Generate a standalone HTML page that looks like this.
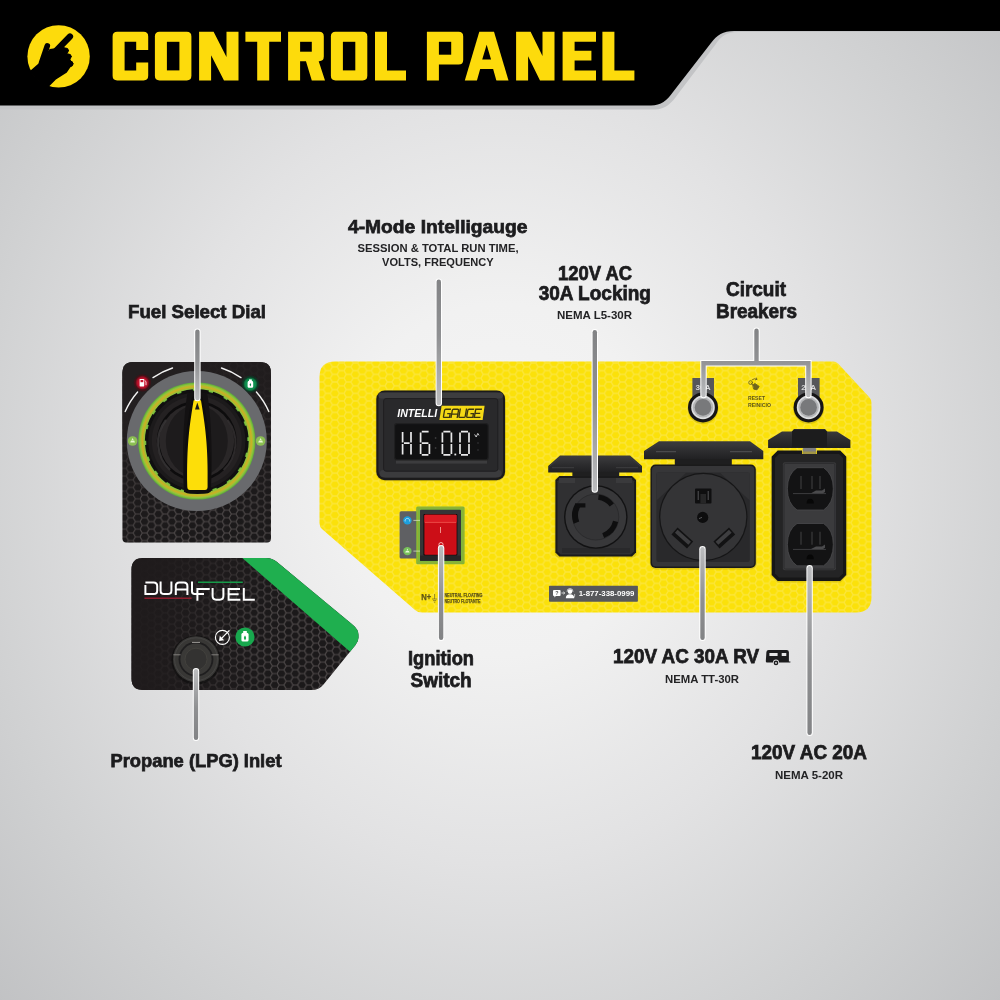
<!DOCTYPE html>
<html>
<head>
<meta charset="utf-8">
<title>Control Panel</title>
<style>
html,body{margin:0;padding:0;}
body{width:1000px;height:1000px;overflow:hidden;background:#c4c5c6;font-family:"Liberation Sans",sans-serif;}
#stage{position:relative;width:1000px;height:1000px;overflow:hidden;
  background:radial-gradient(ellipse 720px 800px at 500px 480px,#f5f5f5 0%,#f1f1f1 22%,#e2e2e3 48%,#cfd0d1 75%,#bebfc1 100%);}
svg{position:absolute;left:0;top:0;will-change:transform;}
text{font-family:"Liberation Sans",sans-serif;font-weight:bold;}
.h{fill:#1c1c1e;stroke:#1c1c1e;stroke-width:0.75px;}
.s{fill:#232325;}
</style>
</head>
<body>
<div id="stage">
<svg width="1000" height="1000" viewBox="0 0 1000 1000">
<defs>
  <!-- yellow hex pattern -->
  <pattern id="hexY" width="13.7" height="7.6" patternUnits="userSpaceOnUse" patternTransform="translate(1.5,2)">
    <rect width="13.7" height="7.6" fill="#fbe10a"/>
    <path d="M0,3.8 L2.28,0 H6.85 L9.13,3.8 L6.85,7.6 H2.28 Z M9.13,3.8 H13.7" fill="none" stroke="#fce63c" stroke-width="1.35"/>
  </pattern>
  <!-- dark hex pattern -->
  <pattern id="hexD" width="13.7" height="7.6" patternUnits="userSpaceOnUse" patternTransform="translate(3,1)">
    <rect width="13.7" height="7.6" fill="#1b191a"/>
    <path d="M0,3.8 L2.28,0 H6.85 L9.13,3.8 L6.85,7.6 H2.28 Z M9.13,3.8 H13.7" fill="none" stroke="#524d4d" stroke-width="1.15"/>
  </pattern>
  <radialGradient id="dialPanelShade" cx="205" cy="545" r="175" gradientUnits="userSpaceOnUse">
    <stop offset="0" stop-color="#231f20" stop-opacity="0"/>
    <stop offset="0.35" stop-color="#231f20" stop-opacity="0.12"/>
    <stop offset="0.7" stop-color="#211d1e" stop-opacity="0.55"/>
    <stop offset="1" stop-color="#211d1e" stop-opacity="0.9"/>
  </radialGradient>
  <radialGradient id="dialPanelShade2" cx="135" cy="372" r="95" gradientUnits="userSpaceOnUse">
    <stop offset="0" stop-color="#231f20" stop-opacity="1"/>
    <stop offset="0.6" stop-color="#231f20" stop-opacity="0.9"/>
    <stop offset="1" stop-color="#231f20" stop-opacity="0"/>
  </radialGradient>
  <radialGradient id="dfPanelShade" cx="305" cy="640" r="185" gradientUnits="userSpaceOnUse">
    <stop offset="0" stop-color="#201c1d" stop-opacity="0"/>
    <stop offset="0.3" stop-color="#201c1d" stop-opacity="0.1"/>
    <stop offset="0.6" stop-color="#1f1b1c" stop-opacity="0.6"/>
    <stop offset="0.85" stop-color="#1f1b1c" stop-opacity="0.93"/>
    <stop offset="1" stop-color="#1f1b1c" stop-opacity="1"/>
  </radialGradient>
  <linearGradient id="lidG" x1="0" y1="0" x2="0" y2="1">
    <stop offset="0" stop-color="#3d3d3f"/><stop offset="0.45" stop-color="#2f2f31"/><stop offset="1" stop-color="#202022"/>
  </linearGradient>
  <radialGradient id="ringG" cx="196.8" cy="441" r="58.6" gradientUnits="userSpaceOnUse">
    <stop offset="0.85" stop-color="#4aa83a"/>
    <stop offset="0.885" stop-color="#86c43e"/>
    <stop offset="0.93" stop-color="#cfae22"/>
    <stop offset="0.965" stop-color="#93c43c"/>
    <stop offset="1" stop-color="#5aae38"/>
  </radialGradient>
  <radialGradient id="knobG" cx="0.5" cy="0.5" r="0.5">
    <stop offset="0" stop-color="#2b2a2b"/><stop offset="0.62" stop-color="#252425"/><stop offset="0.7" stop-color="#0d0c0d"/><stop offset="0.8" stop-color="#1d1b1c"/><stop offset="1" stop-color="#121112"/>
  </radialGradient>
  <radialGradient id="redG" cx="0.5" cy="0.5" r="0.5">
    <stop offset="0" stop-color="#e0162f"/><stop offset="0.7" stop-color="#b8102a"/><stop offset="1" stop-color="#5a0d18"/>
  </radialGradient>
  <radialGradient id="grnG" cx="0.5" cy="0.5" r="0.5">
    <stop offset="0" stop-color="#12a35a"/><stop offset="0.75" stop-color="#0d8a4b"/><stop offset="1" stop-color="#0a4a2c"/>
  </radialGradient>
  <linearGradient id="lineG" x1="0" x2="1" y1="0" y2="0">
    <stop offset="0" stop-color="#8a8b8d"/><stop offset="1" stop-color="#7a7b7d"/>
  </linearGradient>
</defs>

<!-- ===== HEADER ===== -->
<g id="header">
  <path d="M0,0 H1000 V32 H738 C727,32 721,36 715.5,44.5 L678,94 C672,103 665,109.5 655,109.5 H0 Z" fill="#c3c4c6"/>
  <path d="M0,0 H1000 V31 H734 C723,31 717,35 711,43 L673,92 C667,100.5 661,105.5 651,105.5 H0 Z" fill="#000"/>
  <clipPath id="cc"><circle cx="58.6" cy="56.4" r="32"/></clipPath>
  <circle cx="58.6" cy="56.4" r="31.2" fill="#fddb0c"/>
  <g clip-path="url(#cc)" fill="#000" stroke="#000" stroke-linecap="round" stroke-linejoin="round">
    <path d="M52.5,54.5 L70,36.5" stroke-width="6.2" fill="none"/>
    <path d="M41.5,63 L47.3,45.8" stroke-width="5.6" fill="none"/>
    <circle cx="65.8" cy="50.6" r="2.6"/><circle cx="68.6" cy="56.6" r="2.6"/><circle cx="70.2" cy="63.8" r="2.8"/>
    <path d="M39.5,64 L50,50 L64,48 L71.5,64 L66,72 L55,79 L46,88 L28,74 Z" stroke-width="2"/>
  </g>
  <g id="title">
    <path fill="#fddb0c" d="M117.2,31.8 H143.6 Q148.2,31.8 148.2,36.4 V49.9 H136.2 V41.8 H124.6 V70.4 H136.2 V62.5 H148.2 V75.8 Q148.2,80.4 143.6,80.4 H117.2 Q112.6,80.4 112.6,75.8 V36.4 Q112.6,31.8 117.2,31.8 Z"/>
    <path fill="#fddb0c" d="M159.5,31.8 H186.8 Q191.4,31.8 191.4,36.4 V75.8 Q191.4,80.4 186.8,80.4 H159.5 Q154.9,80.4 154.9,75.8 V36.4 Q154.9,31.8 159.5,31.8 Z"/>
    <path fill="#000" d="M166.9,41.8 H179.4 V70.4 H166.9 Z"/>
    <path fill="#fddb0c" d="M199.1,31.8 H211.1 V80.4 H199.1 Z M226.5,31.8 H238.5 V80.4 H226.5 Z M199.1,31.8 L213.6,31.8 L238.5,80.4 L224,80.4 Z"/>
    <path fill="#fddb0c" d="M245.4,31.8 H281 V41.8 H245.4 Z M257.2,31.8 H269.2 V80.4 H257.2 Z"/>
    <path fill="#fddb0c" d="M288.1,31.8 H300.1 V80.4 H288.1 Z M288.1,31.8 H319.2 Q323.8,31.8 323.8,36.4 V56.6 Q323.8,61.2 319.2,61.2 H288.1 V31.8 Z M305.6,60 L318.3,60 L325,80.4 L311.8,80.4 Z"/>
    <path fill="#000" d="M300.1,41.8 H311.8 V51.7 H300.1 Z"/>
    <path fill="#fddb0c" d="M335.5,31.8 H362.7 Q367.3,31.8 367.3,36.4 V75.8 Q367.3,80.4 362.7,80.4 H335.5 Q330.9,80.4 330.9,75.8 V36.4 Q330.9,31.8 335.5,31.8 Z"/>
    <path fill="#000" d="M342.9,41.8 H355.3 V70.4 H342.9 Z"/>
    <path fill="#fddb0c" d="M375,31.8 H387 V80.4 H375 Z M375,70.4 H406 V80.4 H375 Z"/>
    <path fill="#fddb0c" d="M426.9,31.8 H438.9 V80.4 H426.9 Z M426.9,31.8 H458.6 Q463.2,31.8 463.2,36.4 V59.9 Q463.2,64.5 458.6,64.5 H426.9 V31.8 Z"/>
    <path fill="#000" d="M438.9,41.8 H451.2 V54.7 H438.9 Z"/>
    <path fill="#fddb0c" d="M464.8,80.4 L479.3,31.8 L494,31.8 L508.5,80.4 Z"/>
    <path fill="#000" d="M476.8,80.9 L480.17,69.1 L493.13,69.1 L496.5,80.9 Z M482.24,59.5 L486.65,44.7 L491.06,59.5 Z"/>
    <path fill="#fddb0c" d="M516.1,31.8 H528.1 V80.4 H516.1 Z M542.5,31.8 H554.5 V80.4 H542.5 Z M516.1,31.8 L530.6,31.8 L554.5,80.4 L540,80.4 Z"/>
    <path fill="#fddb0c" d="M562.6,31.8 H574.6 V80.4 H562.6 Z M562.6,31.8 H596 V41.8 H562.6 Z M562.6,70.4 H596 V80.4 H562.6 Z M562.6,50.7 H591.4 V60.6 H562.6 Z"/>
    <path fill="#fddb0c" d="M602.4,31.8 H614.4 V80.4 H602.4 Z M602.4,70.4 H634.4 V80.4 H602.4 Z"/>
  </g>
</g>

<!-- ===== YELLOW PANEL ===== -->
<g id="ypanel">
  <path id="yp" d="M335,361.5 H833 Q836,361.5 838,363.6 L869.5,397.5 Q871.5,399.7 871.5,403 V597 Q871.5,612.5 856,612.5 H422 Q418,612.5 415,610 L322,529 Q319.5,527 319.5,523 V377 Q319.5,361.5 335,361.5 Z" fill="url(#hexY)"/>

  <!-- Intelligauge -->
  <g id="gauge">
    <rect x="375.6" y="390.2" width="130" height="91" rx="9" fill="#d8c010" opacity="0.55"/>
    <rect x="376.3" y="390.6" width="128.8" height="89.6" rx="8.5" fill="#1b1a1b"/>
    <rect x="378.4" y="392.4" width="124.6" height="85.6" rx="7" fill="#303032"/>
    <rect x="378.4" y="392.4" width="124.6" height="6" rx="3" fill="#3d3d3f"/>
    <rect x="380" y="470" width="121.5" height="7" rx="3" fill="#3b3b3d"/>
    <rect x="383.6" y="398.6" width="114.2" height="72.6" rx="2.5" fill="#29292b" stroke="#1f1e20" stroke-width="1"/>
    <text x="397.2" y="417.2" font-size="11.4" font-style="italic" fill="#fff" textLength="40" lengthAdjust="spacingAndGlyphs">INTELLI</text>
    <path d="M441.6,405.8 H484.6 L482.6,420 H439.4 Z" fill="#f4d915"/>
    <g fill="none" stroke="#3b3510" stroke-width="1.35" transform="translate(73.5,0) skewX(-10)">
      <path d="M449.60,409.2 H444.40 Q443.40,409.2 443.40,410.2 V416.4 Q443.40,417.4 444.40,417.4 H449.60 V413.60 H446.60 M451.15,418.0 V410.2 Q451.15,409.2 452.15,409.2 H456.35 Q457.35,409.2 457.35,410.2 V418.0 M451.15,414.10 H457.35 M458.90,408.59999999999997 V416.4 Q458.90,417.4 459.90,417.4 H464.10 Q465.10,417.4 465.10,416.4 V408.59999999999997 M472.85,409.2 H467.65 Q466.65,409.2 466.65,410.2 V416.4 Q466.65,417.4 467.65,417.4 H472.85 V413.60 H469.85 M480.60,409.2 H474.40 V417.4 H480.60 M474.40,413.30 H479.60"/>
    </g>
    <rect x="394.6" y="423.6" width="93.6" height="36.2" rx="2.5" fill="#111112" stroke="#1f1f20" stroke-width="1.2"/>
    <rect x="396" y="460.6" width="91" height="3" fill="#3c3c3e"/>
    <!-- 7-seg digits -->
    <g fill="none" stroke="#e9e9ea" stroke-width="1.7" stroke-linecap="butt">
      <path d="M402.6,432 V442.4 M402.6,444 V454.4 M411,432 V442.4 M411,444 V454.4 M404,443.2 H409.6"/>
      <path d="M421.8,431.6 H428.6 M420.6,432.6 V442.4 M420.6,444 V454 M421.8,443.2 H428.4 M429.4,444 V454 M421.8,454.8 H428.4"/>
      <path d="M443.4,431.6 H450.4 M442.4,432.6 V442.4 M442.4,444 V454 M451.4,432.6 V442.4 M451.4,444 V454 M443.4,454.8 H450.4"/>
      <path d="M461,431.6 H468 M460,432.6 V442.4 M460,444 V454 M469,432.6 V442.4 M469,444 V454 M461,454.8 H468"/>
    </g>
    <rect x="454.4" y="453.6" width="1.8" height="1.8" fill="#e9e9ea"/>
    <path d="M474.6,434.4 l1.6,2.6 l1.6,-3.6 l1.2,2" fill="none" stroke="#d8d8d9" stroke-width="0.9"/>
    <g fill="#3a3a3c"><circle cx="435.6" cy="438" r="0.9"/><circle cx="435.6" cy="448" r="0.9"/><circle cx="478" cy="443" r="0.8"/><circle cx="478" cy="450" r="0.8"/></g>
  </g>

  <!-- Ignition switch -->
  <g id="switch">
    <rect x="399.6" y="511.2" width="18" height="47.2" rx="1.5" fill="#5f6063"/>
    <rect x="416.2" y="506.4" width="48.4" height="57.9" rx="1.5" fill="#7cb63c"/>
    <rect x="417.6" y="507.8" width="45.6" height="55.1" rx="1" fill="none" stroke="#98b031" stroke-width="1"/>
    <rect x="420" y="509.8" width="41" height="51" rx="1" fill="#353537"/>
    <rect x="420" y="555.6" width="41" height="5.2" fill="#262627"/>
    <rect x="423.4" y="514" width="34" height="41.6" rx="1" fill="#160a0a"/>
    <rect x="424.4" y="514.8" width="32.2" height="39.9" rx="1" fill="#d3101a"/>
    <rect x="424.4" y="514.8" width="32.2" height="7.6" rx="1" fill="#dc1a22"/>
    <path d="M424.8,522.4 H456.2" stroke="#f0564f" stroke-width="0.8"/>
    <rect x="425.4" y="523.4" width="30.2" height="30" fill="#c80d16" opacity="0.6"/>
    <path d="M440.5,527 V533" stroke="#f7b4a8" stroke-width="0.8"/>
    <circle cx="441" cy="544.6" r="2.1" fill="none" stroke="#ffd8d0" stroke-width="0.8"/>
    <circle cx="407.4" cy="520.4" r="4.2" fill="#1c9fdd"/>
    <path d="M405.2,521.4 a2.3,2.3 0 1 1 4.4,0" fill="none" stroke="#bfe6fa" stroke-width="0.9"/>
    <circle cx="407.4" cy="551.1" r="4.2" fill="#77c05a"/>
    <path d="M405.2,552.6 h4.4 l-0.7,-1.6 h-3 Z M406.5,550.4 l0.9,-1.9 l0.9,1.9 Z" fill="#e6f6d8"/>
    <path d="M413.4,520.4 H420 M413.4,551.1 H420" stroke="#dfe9c8" stroke-width="0.7"/>
  </g>

  <!-- N + ground text -->
  <g id="ntext" fill="#5e5518" stroke="#5e5518" stroke-width="0.25">
    <text x="421.2" y="600.4" font-size="8.2" textLength="10" lengthAdjust="spacingAndGlyphs">N+</text>
    <path d="M434.6,594 V599 M432,599 H437.2 M433,600.6 H436.2 M433.9,602.2 H435.3" stroke="#6f651d" stroke-width="0.7" fill="none"/>
    <text x="444.4" y="597.2" font-size="4.6" textLength="38" lengthAdjust="spacingAndGlyphs">NEUTRAL FLOATING</text>
    <text x="444.4" y="602.6" font-size="4.6" textLength="36" lengthAdjust="spacingAndGlyphs">NEUTRO FLOTANTE</text>
  </g>

  <!-- phone label -->
  <g id="phone">
    <rect x="549" y="585.7" width="88.9" height="16" rx="0.8" fill="#57585b"/>
    <rect x="553" y="589.9" width="7.6" height="6" rx="1" fill="#fff"/>
    <path d="M554.4,595.6 v2 l2,-2 Z" fill="#fff"/>
    <text x="555.3" y="595" font-size="5.4" fill="#57585b">?</text>
    <path d="M561.4,593 H564.6 M563.4,591.8 L564.8,593 L563.4,594.2" stroke="#fff" stroke-width="0.7" fill="none"/>
    <circle cx="570" cy="591.6" r="2.3" fill="#fff"/>
    <path d="M565.8,598.2 q0,-4 4.2,-4 q4.2,0 4.2,4 Z" fill="#fff"/>
    <path d="M567,591.6 a3,3 0 0 1 6,0" fill="none" stroke="#fff" stroke-width="0.7"/>
    <path d="M574.6,594 q0.6,2.4 -1,4" fill="none" stroke="#fff" stroke-width="0.6"/>
    <text x="578.7" y="596.3" font-size="7" fill="#fff" textLength="55.7" lengthAdjust="spacingAndGlyphs">1-877-338-0999</text>
  </g>

  <!-- Circuit breakers -->
  <g id="breakers">
    <rect x="692.4" y="378" width="21.6" height="19" fill="#56575a"/>
    <rect x="798" y="378" width="21.6" height="19" fill="#56575a"/>
    <text x="695.6" y="390" font-size="7.6" fill="#d9d9da" textLength="15" lengthAdjust="spacingAndGlyphs">30A</text>
    <text x="801.2" y="390" font-size="7.6" fill="#d9d9da" textLength="15" lengthAdjust="spacingAndGlyphs">20A</text>
    <g id="brk">
      <circle cx="703" cy="408.6" r="15.4" fill="#b9a30c" opacity="0.45"/>
      <circle cx="703" cy="407.4" r="15" fill="#151415"/>
      <circle cx="703" cy="407.4" r="11.8" fill="#dcdddf"/>
      <circle cx="703" cy="407.4" r="10.2" fill="#b4b5b7"/>
      <circle cx="703" cy="407.4" r="8.3" fill="#78797b"/>
    </g>
    <use href="#brk" x="105.6" y="0"/>
    <!-- reset hand icon -->
    <g fill="none" stroke="#6f651d" stroke-width="0.9" stroke-linecap="round" stroke-linejoin="round">
      <circle cx="750.6" cy="382.6" r="1.9"/>
      <path d="M752.4,379.6 q2.2,-1.8 4.4,-0.4 M756.4,378 l0.6,1.4 l-1.6,0.4"/>
      <path d="M751,383 l4.4,4.6 M753,385 l1.8,-1.6 l4.4,3 l-2.2,3.4 l-3,-0.6 Z" fill="#6f651d"/>
    </g>
    <text x="748" y="400.2" font-size="5.6" fill="#5e5518" textLength="17" lengthAdjust="spacingAndGlyphs">RESET</text>
    <text x="748" y="406.8" font-size="5.6" fill="#5e5518" textLength="23" lengthAdjust="spacingAndGlyphs">REINICIO</text>
  </g>

  <!-- L5-30 locking outlet -->
  <g id="l530">
    <path d="M548.2,466 L560,455.6 H630 L642,466 V472.4 H548.2 Z" fill="url(#lidG)"/>
    <path d="M549.4,466.4 L560.6,457 H629.4 L640.8,466.4" fill="none" stroke="#3b3b3d" stroke-width="1"/>
    <rect x="572.4" y="472" width="46.8" height="5" fill="#1f1f20"/>
    <path d="M552,467.6 H574 M616,467.6 H638" stroke="#39393b" stroke-width="1.4"/>
    <rect x="554.6" y="476.6" width="82.2" height="81" rx="5" fill="#c6ae0c" opacity="0.5"/>
    <path d="M559.4,476 H632 L636,480 V552.6 L632,556.6 H559.4 L555.4,552.6 V480 Z" fill="#1b1b1c"/>
    <path d="M560.6,478 H630.8 L634,481.2 V551.4 L630.8,554.6 H560.6 L557.4,551.4 V481.2 Z" fill="#303032"/>
    <rect x="559" y="478" width="16" height="5" fill="#3a3a3c"/>
    <rect x="616" y="478" width="16" height="5" fill="#3a3a3c"/>
    <rect x="562" y="548" width="68" height="5" fill="#29292b"/>
    <circle cx="595.8" cy="517" r="31.8" fill="#121213"/>
    <circle cx="595.8" cy="517" r="30.4" fill="#38383a"/>
    <circle cx="595.8" cy="517" r="23" fill="#343436" stroke="#2b2b2d" stroke-width="1"/>
    <g fill="none" stroke="#0e0e0f" stroke-width="5.2" stroke-linecap="butt">
      <path d="M576.4,522.6 A20,20 0 0 1 577.6,505.6" stroke-width="6"/>
      <path d="M575,505.4 H585.4" stroke-width="4.2"/>
      <path d="M598.4,497.2 A20,20 0 0 1 611.8,505"/>
      <path d="M615.6,521.4 A20,20 0 0 1 603.2,535.6"/>
    </g>
  </g>

  <!-- TT-30 RV outlet -->
  <g id="tt30">
    <path d="M644,451 L659,441.3 H750 L763.3,451 V459.3 H644 Z" fill="url(#lidG)"/>
    <path d="M645.4,451.4 L659.6,442.6 H749.4 L762,451.4" fill="none" stroke="#3a3a3c" stroke-width="1"/>
    <path d="M656,451.6 H676 M730,451.6 H752" stroke="#4a4a4c" stroke-width="1.3"/>
    <rect x="674.8" y="459" width="57" height="6" fill="#1e1e1f"/>
    <rect x="649.8" y="465.2" width="107" height="104.2" rx="6" fill="#c6ae0c" opacity="0.5"/>
    <rect x="650.5" y="464.5" width="105.3" height="103.5" rx="5" fill="#1a1a1b"/>
    <rect x="652" y="466" width="102.3" height="100.5" rx="4" fill="#363638"/>
    <rect x="656.4" y="472.6" width="93.4" height="89.4" rx="2" fill="#29292b"/>
    <path d="M656.4,472.6 h30 l-30,28 Z M749.8,472.6 h-30 l30,28 Z" fill="#323234"/>
    <circle cx="703.3" cy="517" r="44.2" fill="#161617"/>
    <circle cx="703.3" cy="517" r="43" fill="#343436"/>
    <rect x="695" y="488.5" width="16.5" height="15" rx="1" fill="#0f0f10"/>
    <path d="M698.2,491 V500 M708.2,491 V500" stroke="#5c5c5e" stroke-width="0.9"/>
    <rect x="700.4" y="494" width="5.6" height="9.5" fill="#262627"/>
    <circle cx="702.7" cy="517.4" r="5.6" fill="#0d0d0e"/>
    <path d="M699,518.6 l3,-1.2" stroke="#6a6a6c" stroke-width="0.8"/>
    <g transform="translate(682.3,538) rotate(42)"><rect x="-10.5" y="-4.6" width="21" height="9.2" fill="#121213"/><rect x="-9" y="-3" width="18" height="4" fill="#3e3e40"/></g>
    <g transform="translate(724.3,538) rotate(-42)"><rect x="-10.5" y="-4.6" width="21" height="9.2" fill="#121213"/><rect x="-9" y="-3" width="18" height="4" fill="#3e3e40"/></g>
  </g>

  <!-- 5-20 duplex outlet -->
  <g id="duplex">
    <path d="M768.1,440 L782,431.4 H792 L794,429 H825 L827,431.4 H837 L850.4,440 V447.9 H768.1 Z" fill="url(#lidG)"/>
    <path d="M792,431.4 L794,429.4 H825 L827,431.4 V447 H792 Z" fill="#1c1c1d"/>
    <rect x="802.7" y="447.9" width="13.5" height="6.6" rx="1" fill="#7d7d80"/>
    <path d="M777.4,451.4 H840.6 L847.2,457.4 V575.6 L840.6,582.4 H777.4 L770.8,575.6 V457.4 Z" fill="#c6ae0c" opacity="0.5"/>
    <path d="M777.7,450.6 H802 V455 H817 V450.6 H840.2 L846.2,456.6 V575 L840.2,581 H777.7 L771.7,575 V456.6 Z" fill="#161617"/>
    <path d="M779,454 H839 L843,458 V573.6 L839,577.6 H779 L775,573.6 V458 Z" fill="#242425"/>
    <rect x="782.9" y="462.3" width="53.1" height="107.9" rx="2" fill="#3b3b3d"/>
    <rect x="784" y="463.4" width="50.9" height="105.7" rx="1.5" fill="none" stroke="#2c2c2e" stroke-width="1"/>
    <g id="recep">
      <path d="M797,467.7 H823.6 Q833.3,474 833.3,488.8 Q833.3,503.6 823.6,510 H797 Q787.4,503.6 787.4,488.8 Q787.4,474 797,467.7 Z" fill="#131314" stroke="#4a4a4c" stroke-width="0.8"/>
      <path d="M801,476 V489 M812,476 V489 M820,476 V489" stroke="#2a2a2b" stroke-width="2"/>
      <path d="M793,493.6 H826" stroke="#5a5a5c" stroke-width="0.6"/>
      <path d="M811,493.2 l5,-2.6 h6 l3,-2 v3.4 l-2,1.2 Z" fill="#4a4a4c"/>
      <path d="M806.6,503.4 q0,-4.6 3.6,-4.6 q3.6,0 3.6,4.6 Z" fill="#070707"/>
    </g>
    <use href="#recep" x="0" y="55.8"/>
  </g>
</g>

<!-- ===== DIAL PANEL ===== -->
<g id="dialpanel">
  <path d="M133.5,362 H260 Q271,362 271,373 V538.6 Q271,542.6 267,542.6 H126.5 Q122.5,542.6 122.5,538.6 V373 Q122.5,362 133.5,362 Z" fill="url(#hexD)"/>
  <path d="M133.5,362 H260 Q271,362 271,373 V538.6 Q271,542.6 267,542.6 H126.5 Q122.5,542.6 122.5,538.6 V373 Q122.5,362 133.5,362 Z" fill="url(#dialPanelShade)"/>
  <path d="M133.5,362 H260 Q271,362 271,373 V538.6 Q271,542.6 267,542.6 H126.5 Q122.5,542.6 122.5,538.6 V373 Q122.5,362 133.5,362 Z" fill="url(#dialPanelShade2)"/>
  <!-- white arcs r=77 around (197,441) -->
  <g fill="none" stroke="#f2f2f2" stroke-width="1.4" stroke-linecap="round">
    <path d="M125.2,411.5 A77,77 0 0 1 137.6,392"/>
    <path d="M153,377.6 A77,77 0 0 1 172.5,368"/>
    <path d="M221.5,368 A77,77 0 0 1 241,377.6"/>
    <path d="M256.4,392 A77,77 0 0 1 268.8,411.5"/>
  </g>
  <!-- red gasoline icon -->
  <circle cx="142.4" cy="382.8" r="8.6" fill="#4a0e16" opacity="0.7"/>
  <circle cx="142.4" cy="382.8" r="7" fill="url(#redG)"/>
  <rect x="139.6" y="379" width="4.6" height="7.4" rx="0.6" fill="#fff"/>
  <rect x="140.5" y="380" width="2.8" height="2.2" fill="#c8142d"/>
  <path d="M144.6,380.4 l1.4,1.2 v3.6" fill="none" stroke="#fff" stroke-width="0.8"/>
  <!-- green propane icon -->
  <circle cx="250.4" cy="384.2" r="8.6" fill="#0a3a25" opacity="0.7"/>
  <circle cx="250.4" cy="384.2" r="7" fill="url(#grnG)"/>
  <path d="M247.6,382.4 q0,-1.6 1.6,-1.6 h2.4 q1.6,0 1.6,1.6 v4 q0,1.4 -1.4,1.4 h-2.8 q-1.4,0 -1.4,-1.4 Z" fill="#fff"/>
  <rect x="249" y="379.4" width="2.8" height="1.6" fill="#fff"/>
  <path d="M250.4,383 q1.6,1.8 0,3.6 q-1.6,-1.8 0,-3.6 Z" fill="#0d8a4b"/>
  <!-- rings -->
  <circle cx="196.8" cy="441" r="70" fill="#696a6d"/>
  <circle cx="196.8" cy="441" r="58.6" fill="url(#ringG)"/>
  <circle cx="196.8" cy="441" r="50.6" fill="#141213"/>
  <!-- knob -->
  <circle cx="196.8" cy="441" r="50.2" fill="none" stroke="#100f10" stroke-width="3.4" stroke-dasharray="11.5 4.27"/>
  <circle cx="196.8" cy="441" r="48.6" fill="#1c1a1b"/>
  <circle cx="196.8" cy="441" r="45" fill="#242122"/>
  <circle cx="196.8" cy="441" r="40" fill="#0d0c0d"/>
  <circle cx="196.8" cy="441" r="37.4" fill="#2a2728"/>
  <ellipse cx="196.8" cy="441" rx="31" ry="36" fill="#1d1b1c"/>
  <path d="M166,420 A37,37 0 0 0 170,470" fill="none" stroke="#3a3738" stroke-width="2.2" opacity="0.8"/>
  <path d="M227.6,420 A37,37 0 0 1 223.6,470" fill="none" stroke="#343132" stroke-width="2" opacity="0.8"/>
  <path d="M187.4,393.4 Q197.3,390.6 207.2,393.4 C212,420 212.6,470 210.6,492 Q197.3,496 184,492 C182,470 182.6,420 187.4,393.4 Z" fill="#131112"/>
  <!-- handle -->
  <path d="M192,397 Q197.3,394.5 202.6,397 C207,420 211.5,440 210.5,489 Q210.3,493.5 206,493.5 H189 Q184.6,493.5 184.4,489 C183.5,440 188,420 192,397 Z" fill="#0e0d0d"/>
  <path d="M193.6,400.5 Q197.3,398.2 201,400.5 C205,425 208.4,445 207.6,487 Q207.5,490 205,490 H190 Q187.4,490 187.3,487 C186.5,445 189.6,425 193.6,400.5 Z" fill="#fdde09"/>
  <path d="M197.3,402.6 L199.6,409.4 H195 Z" fill="#1b1a1a"/>
  <!-- small light-green icons -->
  <circle cx="132.6" cy="441" r="4.8" fill="#8fc94f" opacity="0.9"/>
  <path d="M130.2,442.4 h4.8 l-0.8,-1.8 h-3.2 Z M131.6,440 l1,-2 l1,2 Z" fill="#e8f7d0"/>
  <circle cx="260.6" cy="441" r="4.8" fill="#8fc94f" opacity="0.9"/>
  <path d="M258.2,442.4 h4.8 l-0.8,-1.8 h-3.2 Z M259.6,440 l1,-2 l1,2 Z" fill="#e8f7d0"/>
</g>

<!-- ===== DUAL FUEL PANEL ===== -->
<g id="dfpanel">
  <clipPath id="dfclip"><path d="M143,558 H266 Q272,558 277,562 L353,625 Q358.5,629.5 358.5,635 V637.5 Q358.5,641.5 355.5,645 L323.5,684.5 Q319,690 311.5,690 H143 Q131.5,690 131.5,678.5 V569.5 Q131.5,558 143,558 Z"/></clipPath>
  <g clip-path="url(#dfclip)">
    <rect x="131" y="557" width="230" height="134" fill="url(#hexD)"/>
    <rect x="131" y="557" width="230" height="134" fill="url(#dfPanelShade)"/>
    <path d="M240,556 L272,556 L362,631 L362,662 Z" fill="#1faf4f"/>
  </g>
  <!-- DUALFUEL logo -->
  <g fill="none" stroke="#fff" stroke-width="2" stroke-linejoin="miter" stroke-linecap="butt" transform="translate(0,0.5)">
    <path d="M145.4,581.9 H153.6 Q157.2,581.9 157.2,585.5 V590 Q157.2,593.6 153.6,593.6 H145.4 V584.4"/>
    <path d="M160.6,581 V590 Q160.6,593.6 164.2,593.6 H167.8 Q171.4,593.6 171.4,590 V581"/>
    <path d="M175.8,594.6 V585.5 Q175.8,581.9 179.4,581.9 H183.8 Q187.4,581.9 187.4,585.5 V594.6 M175.8,589 H187.4"/>
    <path d="M192,581 V591 Q192,593.4 194.6,593.4 H204"/>
    <path d="M197.4,600.2 V588.4 H209.7"/>
    <path d="M212.6,587.4 V595.6 Q212.6,599.2 216.2,599.2 H219.8 Q223.4,599.2 223.4,595.6 V587.4"/>
    <path d="M240,588.4 H228.6 V599.2 H240.4 M228.6,593.8 H238.6"/>
    <path d="M243.8,587.4 V599.2 H254.8"/>
  </g>
  <path d="M144.4,598.3 H191.6" stroke="#8e1c2c" stroke-width="1.6" fill="none"/>
  <path d="M198,582.3 H242.8" stroke="#179a48" stroke-width="1.4" fill="none"/>
  <!-- inlet knob -->
  <circle cx="196" cy="660" r="24.6" fill="#0c0b0c" opacity="0.6"/>
  <circle cx="196" cy="659.2" r="23" fill="#383735"/>
  <circle cx="196" cy="659.2" r="21.4" fill="none" stroke="#454443" stroke-width="1"/>
  <circle cx="196" cy="659.2" r="17.4" fill="#1f1e1f"/>
  <circle cx="196" cy="659.2" r="15.6" fill="#3a3937"/>
  <circle cx="196" cy="659.2" r="11" fill="#333231" stroke="#45443f" stroke-width="0.8"/>
  <path d="M192,642.4 h8" stroke="#9c9a96" stroke-width="1"/>
  <path d="M173.4,654.8 H180.6 M211.4,654.8 H218.6" stroke="#8a8884" stroke-width="0.9"/>
  <!-- icons -->
  <circle cx="222.4" cy="637.4" r="7" fill="none" stroke="#fff" stroke-width="1.1"/>
  <path d="M229.4,630.4 L221.6,638.4" fill="none" stroke="#fff" stroke-width="1.3"/>
  <path d="M219,641 L219.8,635.8 L224.2,640.2 Z" fill="#fff"/>
  <circle cx="245" cy="637" r="9.6" fill="#18a84e"/>
  <path d="M241.4,634.6 q0,-1.8 1.8,-1.8 h3.6 q1.8,0 1.8,1.8 v5.4 q0,1.6 -1.6,1.6 h-4 q-1.6,0 -1.6,-1.6 Z" fill="#fff"/>
  <rect x="243.2" y="631" width="3.6" height="2" fill="#fff"/>
  <path d="M245,635.4 q2.2,2.4 0,4.8 q-2.2,-2.4 0,-4.8 Z" fill="#18a84e"/>
</g>

<!-- ===== CALLOUT LINES ===== -->
<defs>
  <linearGradient id="l1" gradientUnits="userSpaceOnUse" x1="0" y1="329" x2="0" y2="400"><stop offset="0" stop-color="#828385"/><stop offset="0.45" stop-color="#8f9092"/><stop offset="1" stop-color="#bcbdbf"/></linearGradient>
  <linearGradient id="l2" gradientUnits="userSpaceOnUse" x1="0" y1="279" x2="0" y2="405"><stop offset="0" stop-color="#828385"/><stop offset="0.45" stop-color="#8f9092"/><stop offset="1" stop-color="#bcbdbf"/></linearGradient>
  <linearGradient id="l3" gradientUnits="userSpaceOnUse" x1="0" y1="330" x2="0" y2="492"><stop offset="0" stop-color="#828385"/><stop offset="0.45" stop-color="#8f9092"/><stop offset="1" stop-color="#bcbdbf"/></linearGradient>
  <linearGradient id="l4" gradientUnits="userSpaceOnUse" x1="0" y1="328" x2="0" y2="397"><stop offset="0" stop-color="#828385"/><stop offset="0.45" stop-color="#8f9092"/><stop offset="1" stop-color="#bcbdbf"/></linearGradient>
  <linearGradient id="l5" gradientUnits="userSpaceOnUse" x1="0" y1="640" x2="0" y2="546"><stop offset="0" stop-color="#828385"/><stop offset="0.45" stop-color="#8f9092"/><stop offset="1" stop-color="#bcbdbf"/></linearGradient>
  <linearGradient id="l6" gradientUnits="userSpaceOnUse" x1="0" y1="640" x2="0" y2="547"><stop offset="0" stop-color="#828385"/><stop offset="0.45" stop-color="#8f9092"/><stop offset="1" stop-color="#bcbdbf"/></linearGradient>
  <linearGradient id="l7" gradientUnits="userSpaceOnUse" x1="0" y1="735" x2="0" y2="566"><stop offset="0" stop-color="#828385"/><stop offset="0.45" stop-color="#8f9092"/><stop offset="1" stop-color="#bcbdbf"/></linearGradient>
  <linearGradient id="l8" gradientUnits="userSpaceOnUse" x1="0" y1="740" x2="0" y2="669"><stop offset="0" stop-color="#828385"/><stop offset="0.45" stop-color="#8f9092"/><stop offset="1" stop-color="#bcbdbf"/></linearGradient>
</defs>
<g id="lines" fill="none" stroke-linecap="round" stroke-linejoin="miter">
  <g stroke="#ffffff" stroke-width="6.4">
    <path d="M197.4,331.7 V398"/>
    <path d="M438.8,281.8 V403"/>
    <path d="M594.8,332.2 V489.6"/>
    <path d="M756.5,330.8 V363.2 M703.5,395 V363.2 H808.4 V395"/>
    <path d="M441.1,548.2 V637.8"/>
    <path d="M702.5,549.2 V637.8"/>
    <path d="M809.6,568.2 V732.8"/>
    <path d="M196,671.2 V737.8"/>
  </g>
  <g stroke-width="4.4">
    <path d="M197.4,331.7 V398" stroke="url(#l1)"/>
    <path d="M438.8,281.8 V403" stroke="url(#l2)"/>
    <path d="M594.8,332.2 V489.6" stroke="url(#l3)"/>
    <path d="M756.5,330.8 V363.2 M703.5,395 V363.2 H808.4 V395" stroke="url(#l4)"/>
    <path d="M441.1,548.2 V637.8" stroke="url(#l5)"/>
    <path d="M702.5,549.2 V637.8" stroke="url(#l6)"/>
    <path d="M809.6,568.2 V732.8" stroke="url(#l7)"/>
    <path d="M196,671.2 V737.8" stroke="url(#l8)"/>
  </g>
</g>

<!-- ===== LABELS ===== -->
<g id="labels" opacity="0.999">
  <text class="h" x="128" y="318.3" font-size="19" textLength="138" lengthAdjust="spacingAndGlyphs">Fuel Select Dial</text>
  <text class="h" x="348" y="232.8" font-size="19" textLength="179.5" lengthAdjust="spacingAndGlyphs">4-Mode Intelligauge</text>
  <text class="s" x="357.6" y="251.5" font-size="11" textLength="161" lengthAdjust="spacingAndGlyphs">SESSION &amp; TOTAL RUN TIME,</text>
  <text class="s" x="382" y="265.6" font-size="11" textLength="111.7" lengthAdjust="spacingAndGlyphs">VOLTS, FREQUENCY</text>
  <text class="h" x="558" y="280.3" font-size="19.5" textLength="74" lengthAdjust="spacingAndGlyphs">120V AC</text>
  <text class="h" x="538.7" y="300.3" font-size="19.5" textLength="112.3" lengthAdjust="spacingAndGlyphs">30A Locking</text>
  <text class="s" x="557" y="319" font-size="11" textLength="75" lengthAdjust="spacingAndGlyphs">NEMA L5-30R</text>
  <text class="h" x="726" y="296.3" font-size="19.5" textLength="60" lengthAdjust="spacingAndGlyphs">Circuit</text>
  <text class="h" x="716" y="318.3" font-size="19.5" textLength="81" lengthAdjust="spacingAndGlyphs">Breakers</text>
  <text class="h" x="408" y="664.8" font-size="19.5" textLength="66" lengthAdjust="spacingAndGlyphs">Ignition</text>
  <text class="h" x="410.5" y="687.3" font-size="19.5" textLength="61.2" lengthAdjust="spacingAndGlyphs">Switch</text>
  <text class="h" x="613" y="663.3" font-size="19.5" textLength="146" lengthAdjust="spacingAndGlyphs">120V AC 30A RV</text>
  <text class="s" x="665" y="682.5" font-size="11" textLength="74" lengthAdjust="spacingAndGlyphs">NEMA TT-30R</text>
  <text class="h" x="751" y="759.3" font-size="19.5" textLength="116" lengthAdjust="spacingAndGlyphs">120V AC 20A</text>
  <text class="s" x="775" y="778.5" font-size="11" textLength="68" lengthAdjust="spacingAndGlyphs">NEMA 5-20R</text>
  <text class="h" x="110.5" y="767.3" font-size="19" textLength="171" lengthAdjust="spacingAndGlyphs">Propane (LPG) Inlet</text>
  <g id="rvicon" fill="#1c1c1e">
    <path d="M768.6,649.9 H786.6 Q788.9,649.9 788.9,652.2 V661.4 H790.4 V662.5 H779 A3,3 0 0 0 773,662.5 H767 Q765.8,662.5 765.8,661.3 L766.4,652 Q766.6,649.9 768.6,649.9 Z"/>
    <rect x="769.4" y="652.9" width="8.2" height="3.1" rx="0.5" fill="#e6e6e7"/>
    <rect x="781.7" y="652.9" width="4.6" height="3.1" rx="0.5" fill="#e6e6e7"/>
    <circle cx="776" cy="662.9" r="2.3"/>
    <circle cx="776" cy="662.9" r="0.9" fill="#e6e6e7"/>
  </g>
</g>

</svg>
</div>
</body>
</html>
